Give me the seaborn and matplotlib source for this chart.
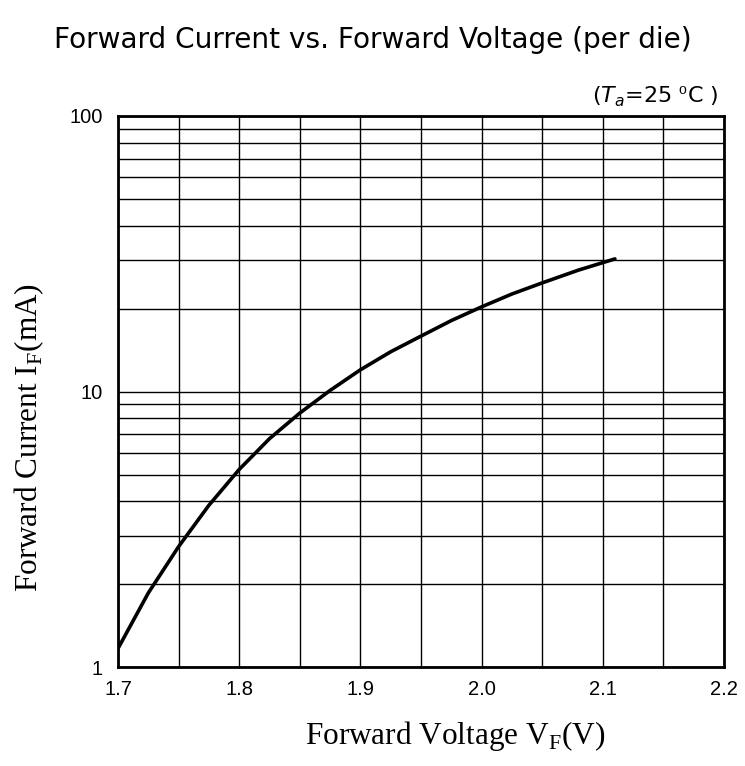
import numpy as np
import pandas as pd
import matplotlib
matplotlib.use("Agg")
import matplotlib.pyplot as plt
from matplotlib.ticker import FixedLocator, NullFormatter, FixedFormatter
import seaborn as sns

# Datos (VF en V, IF en mA)
voltaje = [1.700, 1.725, 1.750, 1.775, 1.800, 1.825, 1.850, 1.875, 1.900,
           1.925, 1.950, 1.975, 2.000, 2.025, 2.050, 2.080, 2.110]
corriente = [1.17, 1.86, 2.74, 3.87, 5.22, 6.75, 8.36, 10.1, 12.0,
             13.95, 15.9, 18.1, 20.3, 22.6, 24.8, 27.6, 30.3]

x_ticks = [1.7, 1.8, 1.9, 2.0, 2.1, 2.2]
x_labels = ["1.7", "1.8", "1.9", "2.0", "2.1", "2.2"]
y_ticks = [1, 10, 100]
y_labels = ["1", "10", "100"]

datos = pd.DataFrame({"VF": voltaje, "IF": corriente})

sns.set_style("white")
plt.rcParams["mathtext.fontset"] = "custom"
plt.rcParams["mathtext.rm"] = "Liberation Serif"
plt.rcParams["text.color"] = "black"

fig = plt.figure(figsize=(7.45, 7.66), dpi=100)
ax = fig.add_axes([0.1584, 0.1289, 0.8134, 0.7197])

sns.lineplot(data=datos, x="VF", y="IF", color="black", linewidth=2.6, ax=ax)

ax.set_yscale("log")
ax.set_xlim(1.7, 2.2)
ax.set_ylim(1, 100)

ax.xaxis.set_major_locator(FixedLocator(x_ticks))
ax.xaxis.set_major_formatter(FixedFormatter(x_labels))
ax.xaxis.set_minor_locator(FixedLocator(np.arange(1.75, 2.2, 0.1)))
ax.yaxis.set_major_locator(FixedLocator(y_ticks))
ax.yaxis.set_major_formatter(FixedFormatter(y_labels))
ax.yaxis.set_minor_locator(FixedLocator([m * d for d in (1, 10) for m in range(2, 10)]))
ax.yaxis.set_minor_formatter(NullFormatter())

ax.grid(True, which="both", color="black", linewidth=1.0)
ax.tick_params(which="both", length=0, labelsize=14.5, labelcolor="black",
               labelfontfamily="Liberation Sans")
ax.tick_params(axis="x", pad=9)
ax.tick_params(axis="y", pad=11)
for s in ax.spines.values():
    s.set_color("black")
    s.set_linewidth(2.0)

ax.set_xlabel(r"Forward Voltage V$_{\mathrm{F}}$(V)", family="Liberation Serif",
              fontsize=22.5, color="black")
ax.set_ylabel(r"Forward Current I$_{\mathrm{F}}$(mA)", family="Liberation Serif",
              fontsize=22.5, color="black")
ax.xaxis.set_label_coords(0.556, -0.094)
ax.yaxis.set_label_coords(-0.119, 0.417)

fig.text(0.5, 0.948, "Forward Current vs. Forward Voltage (per die)",
         ha="center", va="center", family="DejaVu Sans", fontsize=20.2)
ax.text(0.99, 1.035, r"($T_a$=25 $^{\mathrm{o}}$C )", transform=ax.transAxes,
        ha="right", va="center", family="DejaVu Sans", fontsize=16)

fig.savefig("out.png", dpi=100)
